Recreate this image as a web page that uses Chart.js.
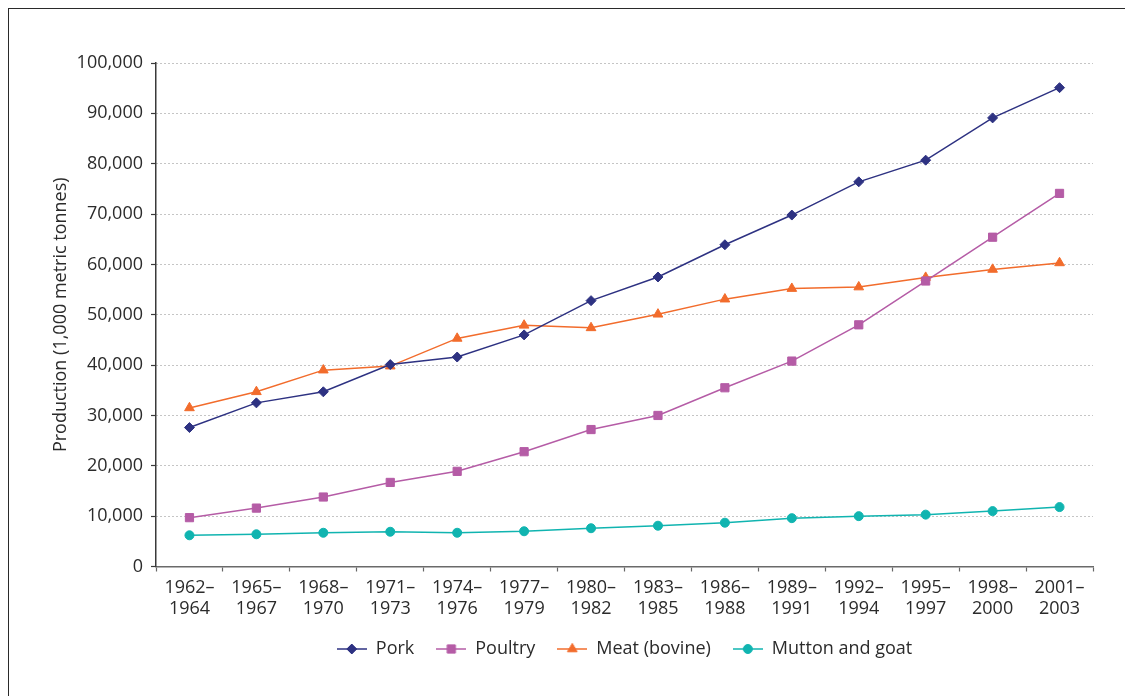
<!DOCTYPE html>
<html>
<head>
<meta charset="utf-8">
<script src="https://cdn.jsdelivr.net/npm/chart.js@4/dist/chart.umd.min.js"></script>
<style>
  html, body { margin: 0; padding: 0; background: #fff; }
  #wrap { position: relative; width: 1125px; height: 696px; overflow: hidden; }
  #frame {
    position: absolute; left: 8px; top: 8px; width: 1300px; height: 900px;
    border-left: 1.5px solid #2a2a2a; border-top: 1.5px solid #2a2a2a;
  }
  #meatChart { position: absolute; left: 0; top: 0; }
</style>
</head>
<body>
<div id="wrap">
  <div id="frame"></div>
  <canvas id="meatChart" width="1125" height="696"></canvas>
</div>
<script>
// Three-year periods on the x axis (two-line labels)
const periods = [
  ['1962–', '1964'], ['1965–', '1967'], ['1968–', '1970'], ['1971–', '1973'],
  ['1974–', '1976'], ['1977–', '1979'], ['1980–', '1982'], ['1983–', '1985'],
  ['1986–', '1988'], ['1989–', '1991'], ['1992–', '1994'], ['1995–', '1997'],
  ['1998–', '2000'], ['2001–', '2003']
];

// Production, 1,000 metric tonnes
const pork = [27600, 32500, 34700, 40100, 41600, 46000, 52800, 57500, 63900, 69800, 76400, 80700, 89100, 95100];
const poultry = [9700, 11600, 13800, 16700, 18900, 22800, 27200, 30000, 35500, 40800, 48000, 56700, 65400, 74100];
const bovine = [31500, 34700, 39000, 39800, 45300, 47900, 47400, 50100, 53100, 55200, 55500, 57400, 59000, 60300];
const muttonGoat = [6200, 6400, 6700, 6900, 6700, 7000, 7600, 8100, 8700, 9600, 10000, 10300, 11000, 11800];

const Y_MIN = 0;
const Y_MAX = 100000;
const Y_STEP = 10000;

const FONT = "'Open Sans', 'DejaVu Sans', sans-serif";
const TEXT = '#2b2b2b';

const series = [
  { label: 'Pork', data: pork, color: '#2e3282', style: 'rectRot', radius: 5 },
  { label: 'Poultry', data: poultry, color: '#b55ca6', style: 'rect', radius: 5.8 },
  { label: 'Meat (bovine)', data: bovine, color: '#f26c2c', style: 'triangle', radius: 5.6 },
  { label: 'Mutton and goat', data: muttonGoat, color: '#10b4b0', style: 'circle', radius: 4.5 }
];

// Legend icon: short line with the marker in the middle
const makeLegendIcon = (s) => {
  const c = document.createElement('canvas');
  c.width = 30;
  c.height = 14;
  const g = c.getContext('2d');
  g.strokeStyle = s.color;
  g.fillStyle = s.color;
  g.lineWidth = 1.5;
  g.beginPath();
  g.moveTo(0, 7);
  g.lineTo(30, 7);
  g.stroke();
  g.lineWidth = 1;
  Chart.helpers.drawPoint(g, { pointStyle: s.style, radius: s.radius, borderWidth: 1, rotation: 0 }, 15, 7);
  return c;
};
const legendIcons = series.map(makeLegendIcon);

const datasets = series.map(s => ({
  label: s.label,
  data: s.data,
  borderColor: s.color,
  backgroundColor: s.color,
  borderWidth: 1.5,
  pointStyle: s.style,
  pointRadius: s.radius,
  pointBorderWidth: 1,
  pointBackgroundColor: s.color,
  pointBorderColor: s.color,
  tension: 0
}));

const ctx = document.getElementById('meatChart').getContext('2d');

new Chart(ctx, {
  type: 'line',
  data: { labels: periods, datasets },
  options: {
    responsive: false,
    animation: false,
    layout: { padding: { left: 0, right: 32, top: 63, bottom: 28 } },
    plugins: {
      tooltip: { enabled: false },
      legend: {
        position: 'bottom',
        fullSize: false, // centre the legend under the plot area
        labels: {
          usePointStyle: true,
          pointStyleWidth: 30,
          padding: 22,
          color: TEXT,
          font: { family: FONT, size: 18 },
          generateLabels(chart) {
            const items = Chart.defaults.plugins.legend.labels.generateLabels(chart);
            items.forEach((it, i) => { it.pointStyle = legendIcons[i]; });
            return items;
          }
        }
      }
    },
    scales: {
      x: {
        offset: true,
        grid: {
          offset: true,
          drawOnChartArea: false,
          drawTicks: true,
          tickLength: 5,
          color: '#666',
          tickWidth: 1.2
        },
        border: { display: true, color: '#6a6a6a', width: 1.5 },
        ticks: {
          color: TEXT,
          autoSkip: false,
          maxRotation: 0,
          padding: 6,
          font: { family: FONT, size: 18, lineHeight: 1.15 }
        },
        afterFit(scale) { scale.height = 51.5; }
      },
      y: {
        min: Y_MIN,
        max: Y_MAX,
        grid: {
          color: '#8a8a8a',
          lineWidth: 1,
          drawTicks: true,
          tickLength: 5,
          tickColor: '#3a3a3a',
          tickWidth: 1.2,
          tickBorderDash: []
        },
        border: { display: true, color: '#3a3a3a', width: 1.5, dash: [1, 3] },
        ticks: {
          stepSize: Y_STEP,
          color: TEXT,
          padding: 8,
          font: { family: FONT, size: 18 },
          callback: (v) => v.toLocaleString('en-US')
        },
        title: {
          display: true,
          text: 'Production (1,000 metric tonnes)',
          color: TEXT,
          font: { family: FONT, size: 18 },
          padding: { top: 50, bottom: 0 }
        },
        afterFit(scale) { scale.width = 156; }
      }
    }
  }
});
</script>
</body>
</html>
